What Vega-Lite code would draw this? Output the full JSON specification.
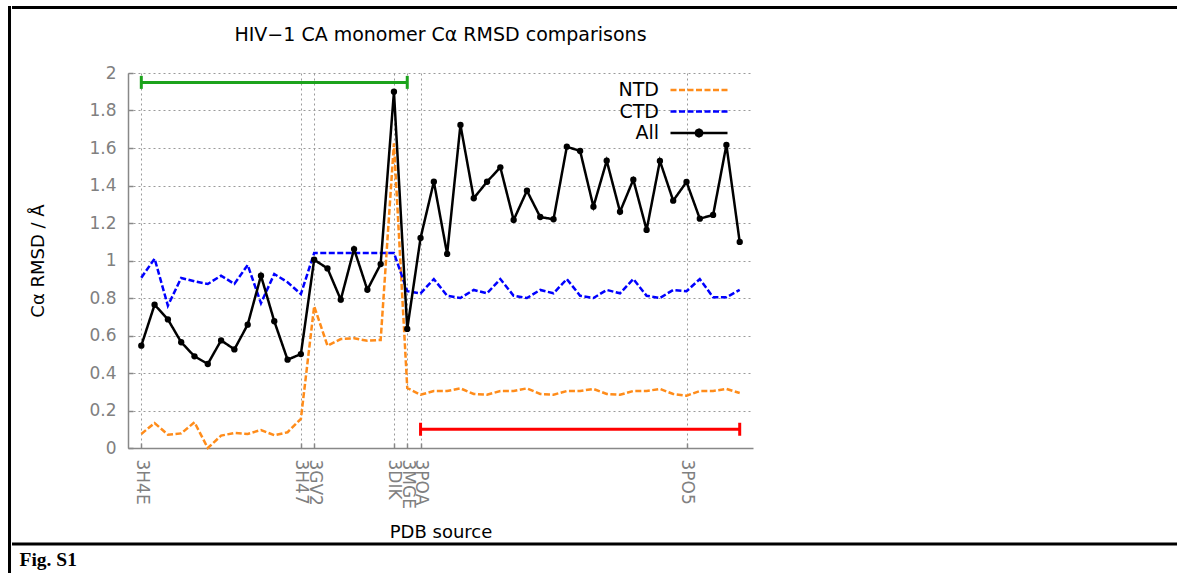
{
  "$schema": "https://vega.github.io/schema/vega-lite/v6.json",
  "autosize": {"type": "pad"},
  "padding": {"left": 7.5, "top": 5.5, "right": 0, "bottom": 0},
  "background": "white",
  "datasets": {
    "rmsd": [
      {"i": 0, "s": "NTD", "v": 0.075}, {"i": 1, "s": "NTD", "v": 0.133}, {"i": 2, "s": "NTD", "v": 0.071}, {"i": 3, "s": "NTD", "v": 0.078},
      {"i": 4, "s": "NTD", "v": 0.137}, {"i": 5, "s": "NTD", "v": 0.0}, {"i": 6, "s": "NTD", "v": 0.066}, {"i": 7, "s": "NTD", "v": 0.08},
      {"i": 8, "s": "NTD", "v": 0.075}, {"i": 9, "s": "NTD", "v": 0.096}, {"i": 10, "s": "NTD", "v": 0.068}, {"i": 11, "s": "NTD", "v": 0.084},
      {"i": 12, "s": "NTD", "v": 0.155}, {"i": 13, "s": "NTD", "v": 0.756}, {"i": 14, "s": "NTD", "v": 0.546}, {"i": 15, "s": "NTD", "v": 0.581},
      {"i": 16, "s": "NTD", "v": 0.585}, {"i": 17, "s": "NTD", "v": 0.572}, {"i": 18, "s": "NTD", "v": 0.576}, {"i": 19, "s": "NTD", "v": 1.625},
      {"i": 20, "s": "NTD", "v": 0.32}, {"i": 21, "s": "NTD", "v": 0.284}, {"i": 22, "s": "NTD", "v": 0.304}, {"i": 23, "s": "NTD", "v": 0.304},
      {"i": 24, "s": "NTD", "v": 0.318}, {"i": 25, "s": "NTD", "v": 0.288}, {"i": 26, "s": "NTD", "v": 0.284}, {"i": 27, "s": "NTD", "v": 0.304},
      {"i": 28, "s": "NTD", "v": 0.304}, {"i": 29, "s": "NTD", "v": 0.318}, {"i": 30, "s": "NTD", "v": 0.288}, {"i": 31, "s": "NTD", "v": 0.284},
      {"i": 32, "s": "NTD", "v": 0.304}, {"i": 33, "s": "NTD", "v": 0.304}, {"i": 34, "s": "NTD", "v": 0.315}, {"i": 35, "s": "NTD", "v": 0.288},
      {"i": 36, "s": "NTD", "v": 0.284}, {"i": 37, "s": "NTD", "v": 0.304}, {"i": 38, "s": "NTD", "v": 0.304}, {"i": 39, "s": "NTD", "v": 0.315},
      {"i": 40, "s": "NTD", "v": 0.288}, {"i": 41, "s": "NTD", "v": 0.279}, {"i": 42, "s": "NTD", "v": 0.304}, {"i": 43, "s": "NTD", "v": 0.304},
      {"i": 44, "s": "NTD", "v": 0.315}, {"i": 45, "s": "NTD", "v": 0.293},
      {"i": 0, "s": "CTD", "v": 0.908}, {"i": 1, "s": "CTD", "v": 1.01}, {"i": 2, "s": "CTD", "v": 0.759}, {"i": 3, "s": "CTD", "v": 0.907},
      {"i": 4, "s": "CTD", "v": 0.889}, {"i": 5, "s": "CTD", "v": 0.875}, {"i": 6, "s": "CTD", "v": 0.919}, {"i": 7, "s": "CTD", "v": 0.875},
      {"i": 8, "s": "CTD", "v": 0.976}, {"i": 9, "s": "CTD", "v": 0.772}, {"i": 10, "s": "CTD", "v": 0.928}, {"i": 11, "s": "CTD", "v": 0.884},
      {"i": 12, "s": "CTD", "v": 0.821}, {"i": 13, "s": "CTD", "v": 1.04}, {"i": 14, "s": "CTD", "v": 1.04}, {"i": 15, "s": "CTD", "v": 1.04},
      {"i": 16, "s": "CTD", "v": 1.04}, {"i": 17, "s": "CTD", "v": 1.04}, {"i": 18, "s": "CTD", "v": 1.04}, {"i": 19, "s": "CTD", "v": 1.04},
      {"i": 20, "s": "CTD", "v": 0.836}, {"i": 21, "s": "CTD", "v": 0.825}, {"i": 22, "s": "CTD", "v": 0.901}, {"i": 23, "s": "CTD", "v": 0.812},
      {"i": 24, "s": "CTD", "v": 0.8}, {"i": 25, "s": "CTD", "v": 0.843}, {"i": 26, "s": "CTD", "v": 0.825}, {"i": 27, "s": "CTD", "v": 0.901},
      {"i": 28, "s": "CTD", "v": 0.812}, {"i": 29, "s": "CTD", "v": 0.8}, {"i": 30, "s": "CTD", "v": 0.843}, {"i": 31, "s": "CTD", "v": 0.825},
      {"i": 32, "s": "CTD", "v": 0.901}, {"i": 33, "s": "CTD", "v": 0.812}, {"i": 34, "s": "CTD", "v": 0.8}, {"i": 35, "s": "CTD", "v": 0.843},
      {"i": 36, "s": "CTD", "v": 0.825}, {"i": 37, "s": "CTD", "v": 0.901}, {"i": 38, "s": "CTD", "v": 0.812}, {"i": 39, "s": "CTD", "v": 0.8},
      {"i": 40, "s": "CTD", "v": 0.843}, {"i": 41, "s": "CTD", "v": 0.836}, {"i": 42, "s": "CTD", "v": 0.901}, {"i": 43, "s": "CTD", "v": 0.804},
      {"i": 44, "s": "CTD", "v": 0.804}, {"i": 45, "s": "CTD", "v": 0.843},
      {"i": 0, "s": "All", "v": 0.546}, {"i": 1, "s": "All", "v": 0.764}, {"i": 2, "s": "All", "v": 0.686}, {"i": 3, "s": "All", "v": 0.564},
      {"i": 4, "s": "All", "v": 0.489}, {"i": 5, "s": "All", "v": 0.448}, {"i": 6, "s": "All", "v": 0.574}, {"i": 7, "s": "All", "v": 0.526},
      {"i": 8, "s": "All", "v": 0.658}, {"i": 9, "s": "All", "v": 0.919}, {"i": 10, "s": "All", "v": 0.676}, {"i": 11, "s": "All", "v": 0.471},
      {"i": 12, "s": "All", "v": 0.501}, {"i": 13, "s": "All", "v": 1.004}, {"i": 14, "s": "All", "v": 0.958}, {"i": 15, "s": "All", "v": 0.791},
      {"i": 16, "s": "All", "v": 1.061}, {"i": 17, "s": "All", "v": 0.844}, {"i": 18, "s": "All", "v": 0.981}, {"i": 19, "s": "All", "v": 1.9},
      {"i": 20, "s": "All", "v": 0.635}, {"i": 21, "s": "All", "v": 1.12}, {"i": 22, "s": "All", "v": 1.42}, {"i": 23, "s": "All", "v": 1.035},
      {"i": 24, "s": "All", "v": 1.723}, {"i": 25, "s": "All", "v": 1.332}, {"i": 26, "s": "All", "v": 1.42}, {"i": 27, "s": "All", "v": 1.497},
      {"i": 28, "s": "All", "v": 1.216}, {"i": 29, "s": "All", "v": 1.372}, {"i": 30, "s": "All", "v": 1.232}, {"i": 31, "s": "All", "v": 1.22},
      {"i": 32, "s": "All", "v": 1.607}, {"i": 33, "s": "All", "v": 1.584}, {"i": 34, "s": "All", "v": 1.287}, {"i": 35, "s": "All", "v": 1.532},
      {"i": 36, "s": "All", "v": 1.26}, {"i": 37, "s": "All", "v": 1.431}, {"i": 38, "s": "All", "v": 1.163}, {"i": 39, "s": "All", "v": 1.531},
      {"i": 40, "s": "All", "v": 1.319}, {"i": 41, "s": "All", "v": 1.419}, {"i": 42, "s": "All", "v": 1.223}, {"i": 43, "s": "All", "v": 1.243},
      {"i": 44, "s": "All", "v": 1.616}, {"i": 45, "s": "All", "v": 1.099}
    ],
    "ranges": [
      {"group": "3H4E–3MGE", "start": 0, "end": 20, "level": 1.95},
      {"group": "3POA–end", "start": 21, "end": 45, "level": 0.1}
    ]
  },
  "hconcat": [
    {
      "width": 0.01,
      "height": 620,
      "view": {"stroke": "black", "strokeWidth": 3, "fill": null},
      "data": {"values": []},
      "mark": {"type": "point"}
    },
    {
      "vconcat": [
        {
          "width": 1200,
          "height": 0.01,
          "view": {"stroke": "black", "strokeWidth": 3, "fill": null},
          "data": {"values": []},
          "mark": {"type": "point"}
        },
        {
          "vconcat": [
            {
              "hconcat": [
                {
                  "width": 0.01,
                  "height": 0.01,
                  "data": {"values": []},
                  "mark": {"type": "point"}
                },
                {
                  "width": 625,
                  "height": 375,
                  "title": {
                    "text": "HIV−1 CA monomer Cα RMSD comparisons",
                    "fontSize": 19,
                    "fontWeight": "normal",
                    "color": "black",
                    "offset": 19.5,
                    "anchor": "middle",
                    "frame": "group"
                  },
                  "layer": [
                    {
                      "data": {"name": "rmsd"},
                      "mark": {"type": "line", "strokeWidth": 2.5},
                      "encoding": {
                        "x": {
                          "field": "i",
                          "type": "quantitative",
                          "scale": {"domain": [-1, 46], "nice": false, "zero": false},
                          "axis": {
                            "title": "PDB source",
                            "values": [0, 12, 13, 19, 20, 21, 41],
                            "labelExpr": "datum.value == 0 ? '3H4E' : datum.value == 12 ? '3H47' : datum.value == 13 ? '3GV2' : datum.value == 19 ? '3DIK' : datum.value == 20 ? '3MGE' : datum.value == 21 ? '3POA' : '3PO5'",
                            "labelAngle": 90,
                            "labelOverlap": false,
                            "labelPadding": 16,
                            "ticks": true,
                            "tickSize": -5,
                            "titlePadding": 15
                          }
                        },
                        "y": {
                          "field": "v",
                          "type": "quantitative",
                          "scale": {"domain": [0, 2], "nice": false},
                          "axis": {
                            "title": "Cα RMSD / Å",
                            "values": [0, 0.2, 0.4, 0.6, 0.8, 1, 1.2, 1.4, 1.6, 1.8, 2],
                            "tickCount": 11,
                            "format": "~g",
                            "labelOverlap": false,
                            "ticks": true,
                            "tickSize": -5,
                            "labelPadding": 17,
                            "titlePadding": 41
                          }
                        },
                        "color": {
                          "field": "s",
                          "type": "nominal",
                          "title": null,
                          "scale": {"domain": ["NTD", "CTD", "All"], "range": ["#ff8c1a", "#0000ff", "#000000"]},
                          "legend": {
                            "orient": "none",
                            "legendX": 560,
                            "legendY": 6,
                            "encode": {
                              "symbols": {
                                "update": {
                                  "shape": {"signal": "datum.value === 'All' ? 'M-3,0H3M0.36,0L0.25,0.25L0,0.36L-0.25,0.25L-0.36,0L-0.25,-0.25L0,-0.36L0.25,-0.25Z' : 'M-3,0H3'"},
                                  "fill": {"signal": "datum.value === 'All' ? 'black' : 'transparent'"}
                                }
                              }
                            }
                          }
                        },
                        "strokeDash": {
                          "field": "s",
                          "type": "nominal",
                          "title": null,
                          "scale": {"domain": ["NTD", "CTD", "All"], "range": [[6, 2.5], [6, 2.5], [1, 0]]}
                        }
                      }
                    },
                    {
                      "data": {"name": "rmsd"},
                      "transform": [{"filter": "datum.s === 'All'"}],
                      "mark": {"type": "point", "filled": true, "size": 40, "color": "black", "opacity": 1},
                      "encoding": {
                        "x": {"field": "i", "type": "quantitative"},
                        "y": {"field": "v", "type": "quantitative"}
                      }
                    },
                    {
                      "data": {"name": "ranges"},
                      "transform": [{"filter": "datum.start === 0"}],
                      "mark": {"type": "rule", "color": "#1ca31c", "strokeWidth": 3},
                      "encoding": {
                        "x": {"field": "start", "type": "quantitative"},
                        "x2": {"field": "end"},
                        "y": {"field": "level", "type": "quantitative"}
                      }
                    },
                    {
                      "data": {"name": "ranges"},
                      "transform": [{"filter": "datum.start === 0"}],
                      "mark": {"type": "tick", "orient": "vertical", "color": "#1ca31c", "size": 13, "thickness": 3, "opacity": 1},
                      "encoding": {
                        "x": {"field": "start", "type": "quantitative"},
                        "y": {"field": "level", "type": "quantitative"}
                      }
                    },
                    {
                      "data": {"name": "ranges"},
                      "transform": [{"filter": "datum.start === 0"}],
                      "mark": {"type": "tick", "orient": "vertical", "color": "#1ca31c", "size": 13, "thickness": 3, "opacity": 1},
                      "encoding": {
                        "x": {"field": "end", "type": "quantitative"},
                        "y": {"field": "level", "type": "quantitative"}
                      }
                    },
                    {
                      "data": {"name": "ranges"},
                      "transform": [{"filter": "datum.start !== 0"}],
                      "mark": {"type": "rule", "color": "#ff0000", "strokeWidth": 3},
                      "encoding": {
                        "x": {"field": "start", "type": "quantitative"},
                        "x2": {"field": "end"},
                        "y": {"field": "level", "type": "quantitative"}
                      }
                    },
                    {
                      "data": {"name": "ranges"},
                      "transform": [{"filter": "datum.start !== 0"}],
                      "mark": {"type": "tick", "orient": "vertical", "color": "#ff0000", "size": 13, "thickness": 3, "opacity": 1},
                      "encoding": {
                        "x": {"field": "start", "type": "quantitative"},
                        "y": {"field": "level", "type": "quantitative"}
                      }
                    },
                    {
                      "data": {"name": "ranges"},
                      "transform": [{"filter": "datum.start !== 0"}],
                      "mark": {"type": "tick", "orient": "vertical", "color": "#ff0000", "size": 13, "thickness": 3, "opacity": 1},
                      "encoding": {
                        "x": {"field": "end", "type": "quantitative"},
                        "y": {"field": "level", "type": "quantitative"}
                      }
                    }
                  ]
                }
              ],
              "spacing": 14.5,
              "resolve": {"scale": {"color": "independent", "strokeDash": "independent"}, "legend": {"color": "independent", "strokeDash": "independent"}}
            },
            {
              "width": 1200,
              "height": 0.01,
              "view": {"stroke": "black", "strokeWidth": 3, "fill": null},
              "title": {
                "text": "Fig. S1",
                "orient": "bottom",
                "anchor": "start",
                "frame": "group",
                "offset": 7,
                "dx": 6,
                "font": "Liberation Serif",
                "fontWeight": "bold",
                "fontSize": 19.5,
                "color": "black"
              },
              "data": {"values": []},
              "mark": {"type": "point"}
            }
          ],
          "spacing": 0,
          "resolve": {"scale": {"color": "independent", "strokeDash": "independent"}, "legend": {"color": "independent", "strokeDash": "independent"}}
        }
      ],
      "spacing": 15.5,
      "resolve": {"scale": {"color": "independent", "strokeDash": "independent"}, "legend": {"color": "independent", "strokeDash": "independent"}}
    }
  ],
  "spacing": 0,
  "resolve": {"scale": {"color": "independent", "strokeDash": "independent"}, "legend": {"color": "independent", "strokeDash": "independent"}},
  "config": {
    "font": "DejaVu Sans",
    "view": {"stroke": null},
    "axis": {
      "grid": true,
      "gridColor": "#9a9a9a",
      "gridDash": [2, 3],
      "gridWidth": 1,
      "domainColor": "#888888",
      "domainWidth": 1.5,
      "tickColor": "#888888",
      "tickWidth": 1.5,
      "labelColor": "#808080",
      "labelFontSize": 17,
      "labelFont": "DejaVu Sans",
      "titleColor": "black",
      "titleFontSize": 18,
      "titleFontWeight": "normal",
      "titleFont": "DejaVu Sans"
    },
    "legend": {
      "padding": 0,
      "symbolType": "M-3,0H3",
      "symbolSize": 361,
      "symbolStrokeWidth": 2.5,
      "labelFontSize": 19,
      "labelColor": "black",
      "labelFont": "DejaVu Sans",
      "labelAlign": "right",
      "labelOffset": -51,
      "rowPadding": 0.5
    }
  }
}
